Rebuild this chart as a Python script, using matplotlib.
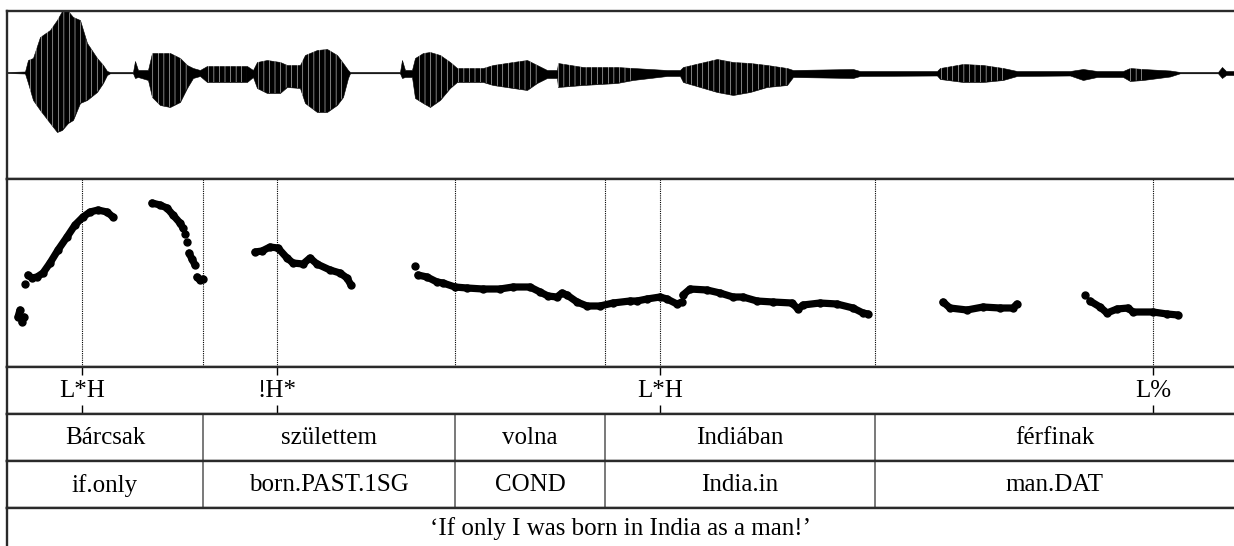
import matplotlib.pyplot as plt

plt.rcParams['font.family'] = ['Liberation Serif', 'DejaVu Serif']
plt.rcParams['hatch.linewidth'] = 0.35

W, H = 1234, 546
DUR = 3.0675  # seconds shown

# waveform envelope: time (s), upper and lower amplitude
wave_t = [0.0, 0.045, 0.0525, 0.065, 0.0825, 0.1075, 0.125, 0.1375, 0.1525, 0.165,
          0.1825, 0.20, 0.225, 0.24, 0.25, 0.2575, 0.315, 0.32, 0.3275, 0.3525,
          0.3625, 0.3825, 0.4075, 0.4325, 0.45, 0.465, 0.4825, 0.50, 0.60, 0.615,
          0.625, 0.65, 0.6825, 0.70, 0.7325, 0.745, 0.775, 0.80, 0.825, 0.84,
          0.8525, 0.8575, 0.9825, 0.9875, 0.995, 1.0125, 1.02, 1.04, 1.0575, 1.0825,
          1.1075, 1.125, 1.19, 1.215, 1.265, 1.30, 1.325, 1.35, 1.375, 1.3775,
          1.44, 1.525, 1.565, 1.65, 1.6825, 1.69, 1.7325, 1.775, 1.815, 1.8575,
          1.90, 1.95, 1.965, 2.115, 2.1325, 2.325, 2.3325, 2.39, 2.44, 2.49,
          2.525, 2.6575, 2.69, 2.725, 2.79, 2.8075, 2.84, 2.9075, 2.9325, 3.0275,
          3.0375, 3.0475, 3.0675]
wave_hi = [0.005, 0.01, 0.125, 0.145, 0.355, 0.425, 0.525, 0.615, 0.615, 0.555,
           0.525, 0.295, 0.145, 0.075, 0.015, 0.005, 0.005, 0.115, 0.025, 0.025,
           0.195, 0.195, 0.195, 0.145, 0.075, 0.045, 0.025, 0.065, 0.065, 0.025,
           0.105, 0.125, 0.105, 0.075, 0.075, 0.175, 0.225, 0.235, 0.175, 0.095,
           0.025, 0.005, 0.005, 0.125, 0.025, 0.025, 0.145, 0.195, 0.205, 0.175,
           0.105, 0.045, 0.045, 0.075, 0.105, 0.125, 0.075, 0.025, 0.025, 0.095,
           0.055, 0.055, 0.045, 0.025, 0.025, 0.055, 0.095, 0.135, 0.105, 0.095,
           0.075, 0.045, 0.025, 0.035, 0.015, 0.015, 0.045, 0.085, 0.075, 0.045,
           0.015, 0.015, 0.035, 0.015, 0.015, 0.045, 0.035, 0.02, 0.005, 0.005,
           0.055, 0.015, 0.015]
wave_lo = [-0.005, -0.01, -0.105, -0.275, -0.375, -0.505, -0.595, -0.575, -0.505, -0.475,
           -0.305, -0.275, -0.195, -0.105, -0.025, -0.008, -0.008, -0.055, -0.045, -0.075,
           -0.245, -0.325, -0.345, -0.295, -0.155, -0.055, -0.035, -0.095, -0.095, -0.045,
           -0.155, -0.205, -0.205, -0.145, -0.155, -0.305, -0.395, -0.395, -0.325, -0.245,
           -0.055, -0.008, -0.008, -0.055, -0.045, -0.045, -0.255, -0.305, -0.345, -0.275,
           -0.155, -0.095, -0.095, -0.125, -0.155, -0.175, -0.105, -0.055, -0.055, -0.145,
           -0.125, -0.105, -0.075, -0.035, -0.035, -0.095, -0.145, -0.195, -0.225, -0.195,
           -0.145, -0.125, -0.045, -0.055, -0.035, -0.03, -0.065, -0.095, -0.095, -0.075,
           -0.035, -0.03, -0.075, -0.045, -0.045, -0.085, -0.075, -0.04, -0.008, -0.008,
           -0.055, -0.025, -0.025]

# F0 track (s, Hz), one entry per voiced stretch
f0_segments = [
    ([0.0275, 0.0325], [174, 188]),
    ([0.0375, 0.0425], [164, 174]),
    ([0.045], [240]),
    ([0.0525, 0.0625, 0.075, 0.09, 0.1075, 0.1275, 0.15, 0.17, 0.19, 0.2075,
      0.2275, 0.25, 0.265],
     [258, 252, 254, 262, 282, 308, 334, 358, 374, 384, 388, 384, 374]),
    ([0.3625, 0.3825, 0.40, 0.415, 0.4325, 0.44], [402, 398, 392, 378, 362, 352]),
    ([0.445], [340]),
    ([0.45], [324]),
    ([0.455, 0.4625, 0.47], [302, 290, 278]),
    ([0.475, 0.4825, 0.49], [254, 248, 250]),
    ([0.62, 0.6375, 0.6575, 0.6775, 0.70, 0.715, 0.74, 0.7575, 0.775, 0.8075,
      0.8325, 0.85, 0.86],
     [304, 306, 314, 312, 292, 282, 280, 292, 280, 268, 262, 252, 238]),
    ([1.02], [276]),
    ([1.0275, 1.05, 1.075, 1.09, 1.12, 1.15, 1.19, 1.2325, 1.265, 1.3075,
      1.3325, 1.3525, 1.375, 1.3875, 1.40, 1.425, 1.45, 1.4825, 1.515, 1.5575,
      1.575, 1.60, 1.6325, 1.65, 1.675, 1.6875],
     [258, 254, 244, 242, 234, 232, 230, 230, 234, 234,
      224, 216, 214, 222, 218, 204, 196, 196, 202, 206,
      206, 210, 214, 210, 200, 204]),
    ([1.69, 1.7075, 1.75, 1.7825, 1.815, 1.84, 1.875, 1.915, 1.9625, 1.9775,
      1.99, 2.0325, 2.075, 2.115, 2.14, 2.1525],
     [218, 230, 228, 222, 214, 214, 206, 204, 202, 190,
      198, 202, 200, 192, 182, 180]),
    ([2.34, 2.3575, 2.40, 2.44, 2.4825, 2.515, 2.525],
     [204, 192, 188, 194, 192, 192, 200]),
    ([2.695], [218]),
    ([2.7075, 2.7325, 2.75, 2.775, 2.8025, 2.815, 2.865, 2.90, 2.9275],
     [206, 194, 182, 190, 192, 184, 184, 180, 178]),
]

word_bounds = [0.49, 1.12, 1.495, 2.17]
words = ["Bárcsak", "születtem", "volna", "Indiában", "férfinak"]
glosses = ["if.only", "born.PAST.1SG", "COND", "India.in", "man.DAT"]
tone_times = [0.1875, 0.675, 1.6325, 2.865]
tones = ["L*H", "!H*", "L*H", "L%"]
translation = "\u2018If only I was born in India as a man!\u2019"

fig = plt.figure(figsize=(W / 100, H / 100), dpi=100)


def panel(top, bottom, left=7, right=1234):
    ax = fig.add_axes([left / W, 1 - bottom / H, (right - left) / W, (bottom - top) / H])
    ax.set_xlim(0, DUR)
    ax.set_xticks([])
    ax.set_yticks([])
    for s in ax.spines.values():
        s.set_linewidth(1.7)
        s.set_color('#2a2a2a')
    ax.spines['right'].set_visible(False)
    return ax


FS = 18

# waveform
ax_w = panel(11, 179)
ax_w.fill_between(wave_t, wave_lo, wave_hi, color='black', lw=0.4)
# white period stripes inside the louder stretches
loud = [h - l > 0.1 for h, l in zip(wave_hi, wave_lo)]
ax_w.fill_between(wave_t, wave_lo, wave_hi, where=loud, facecolor='none',
                  edgecolor='white', hatch='|||', lw=0)
ax_w.set_ylim(-1.065, 0.615)

# pitch track
ax_p = panel(179, 367)
for t in word_bounds + tone_times:
    ax_p.axvline(t, color='black', lw=0.8, ls=(0, (1, 1)))
for ts, fs in f0_segments:
    ax_p.plot(ts, fs, color='black', lw=5.2, solid_capstyle='round',
              solid_joinstyle='round', marker='o', ms=5, mec='black')
ax_p.set_ylim(74, 450)

# tones
ax_t = panel(367, 414)
ax_t.set_ylim(0, 1)
for t, lab in zip(tone_times, tones):
    ax_t.vlines(t, 0.82, 1.0, color='black', lw=1)
    ax_t.vlines(t, 0.0, 0.19, color='black', lw=1)
    ax_t.text(t, 0.48, lab, ha='center', va='center', fontsize=FS)

edges = [0] + word_bounds + [DUR]
centers = [(a + b) / 2 for a, b in zip(edges[:-1], edges[1:])]

# words and glosses
for (top, bottom), labels in [((414, 461), words), ((461, 508), glosses)]:
    ax = panel(top, bottom)
    ax.set_ylim(0, 1)
    for b in word_bounds:
        ax.axvline(b, color='#555555', lw=1.1)
    for c, lab in zip(centers, labels):
        ax.text(c, 0.48, lab, ha='center', va='center', fontsize=FS)

# free translation
ax_f = panel(508, 550)
ax_f.set_ylim(0, 1)
ax_f.spines['bottom'].set_visible(False)
ax_f.text(DUR / 2, 0.5, translation, ha='center', va='center', fontsize=FS)

fig.savefig('out.png', dpi=100)
